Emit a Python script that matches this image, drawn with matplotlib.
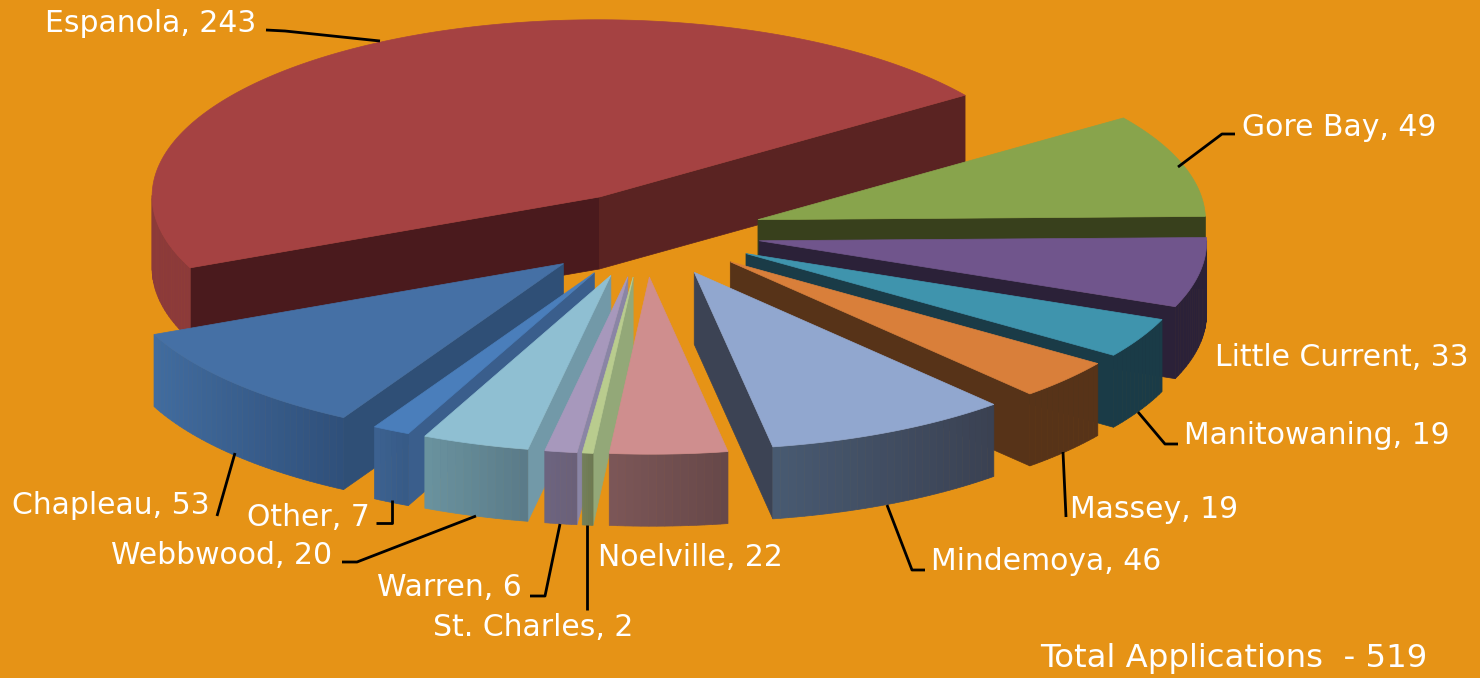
"""Exploded 3D pie of applications per town, drawn by hand with polygons."""

import matplotlib

matplotlib.use("Agg")
import matplotlib.pyplot as plt
import numpy as np
from matplotlib.colors import to_rgb
from matplotlib.patches import Polygon

TOWNS = [
    "Espanola", "Gore Bay", "Little Current", "Manitowaning", "Massey", "Mindemoya",
    "Noelville", "St. Charles", "Warren", "Webbwood", "Other", "Chapleau",
]
COUNTS = [243, 49, 33, 19, 19, 46, 22, 2, 6, 20, 7, 53]
TOTAL_LABEL = "Total Applications  - 519"

TOP_COLORS = ["#a54242", "#88a44c", "#70558c", "#3f94ad", "#d97f3a", "#91a7cf",
              "#cf8e8e", "#b9cc8e", "#a798bc", "#8fbfd2", "#4a7ebb", "#4570a5"]
# wall at the start edge of a slice, wall at the end edge
WALL_START = ["#4a1a1d", "#38401c", "#2b2138", "#1a3b47", "#573318", "#3c4354",
              "#6b4a4a", "#93a878", "#8a85a5", "#7299a8", "#3a5e8c", "#2f4f76"]
WALL_END = ["#5a2322", "#38401c", "#2b2138", "#1a3b47", "#573318", "#3c4354",
            "#6b4a4a", "#93a878", "#8a85a5", "#7299a8", "#3a5e8c", "#2f4f76"]
RIM_LEFT = ["#8c3a3a", "#38401c", "#2b2138", "#1a3b47", "#573318", "#485a72",
            "#7c5658", "#74805a", "#6c6480", "#6a939f", "#3c6291", "#416c9f"]
RIM_RIGHT = ["#8c3a3a", "#38401c", "#2b2138", "#1a3b47", "#573318", "#3a4152",
             "#664848", "#6c7850", "#6a6078", "#5a7a88", "#365a86", "#2f4f7a"]

BACKGROUND = "#e69316"
START_DEG = -111.0
RADIUS_X = 447
RADIUS_Y = 177
SKEW_X = 22
SKEW_Y = 8
DEPTH = 72
CENTER = (650, 234)
EXPLODE = (112, 43)
EXPLODE_SKEW = 3

# label left edge / vertical middle, and leader line for each town
LABEL_POS = {
    "Espanola": (45, 23), "Gore Bay": (1242, 127), "Little Current": (1215, 357),
    "Manitowaning": (1184, 436), "Massey": (1070, 509), "Mindemoya": (931, 562),
    "Noelville": (598, 558), "St. Charles": (433, 628), "Warren": (377, 588),
    "Webbwood": (111, 556), "Other": (247, 517), "Chapleau": (12, 506),
}
LEADERS = {
    "Espanola": [(266, 30), (285, 31), (380, 41)],
    "Gore Bay": [(1178, 167), (1222, 134), (1235, 134)],
    "Manitowaning": [(1138, 412), (1165, 444), (1178, 444)],
    "Massey": [(1063, 452), (1066, 517)],
    "Mindemoya": [(887, 505), (912, 570), (925, 570)],
    "St. Charles": [(587, 525), (587, 610)],
    "Warren": [(560, 524), (545, 596), (530, 596)],
    "Webbwood": [(476, 516), (357, 562), (342, 562)],
    "Other": [(392, 500), (392, 523), (376, 523)],
    "Chapleau": [(235, 453), (217, 516)],
}


def rim_point(tip, theta):
    x = tip[0] + RADIUS_X * np.sin(theta) - SKEW_X * np.cos(theta)
    y = tip[1] - RADIUS_Y * np.cos(theta) - SKEW_Y * np.sin(theta)
    return np.column_stack([x, y])


def wall(ax, tip, edge, color, z):
    pts = [tip, edge, (edge[0], edge[1] + DEPTH), (tip[0], tip[1] + DEPTH)]
    ax.add_patch(Polygon(pts, closed=True, fc=color, ec=color, lw=0.5, zorder=z))


def draw_slice(ax, t0, t1, i, z):
    mid = 0.5 * (t0 + t1)
    tip = (
        CENTER[0] + EXPLODE[0] * np.sin(mid),
        CENTER[1] - EXPLODE[1] * np.cos(mid) - EXPLODE_SKEW * np.sin(mid),
    )
    steps = max(int(np.degrees(t1 - t0)), 6)
    theta = np.linspace(t0, t1, steps + 1)
    arc = rim_point(tip, theta)

    # walls that face away would only leave a dark fringe round the top
    if arc[0][0] < tip[0]:
        wall(ax, tip, arc[0], WALL_START[i], z)
    if arc[-1][0] > tip[0]:
        wall(ax, tip, arc[-1], WALL_END[i], z)

    # rim is drawn in strips so it can shade left to right
    left = np.array(to_rgb(RIM_LEFT[i]))
    right = np.array(to_rgb(RIM_RIGHT[i]))
    x_lo, x_hi = arc[:, 0].min(), arc[:, 0].max()
    for a, b in zip(arc[:-1], arc[1:]):
        # going clockwise, only the part that runs right to left faces the viewer
        if b[0] >= a[0]:
            continue
        frac = (0.5 * (a[0] + b[0]) - x_lo) / max(x_hi - x_lo, 1)
        col = left + (right - left) * frac
        strip = [a, b, (b[0], b[1] + DEPTH), (a[0], a[1] + DEPTH)]
        ax.add_patch(Polygon(strip, closed=True, fc=col, ec=col, lw=0.5, zorder=z + 0.1))

    top = np.vstack([[tip], arc])
    ax.add_patch(Polygon(top, closed=True, fc=TOP_COLORS[i], ec=TOP_COLORS[i], lw=0.5, zorder=z + 0.2))


def main() -> None:
    plt.rcParams["font.family"] = ["DejaVu Sans"]
    fig = plt.figure(figsize=(14.8, 6.78), dpi=100, facecolor=BACKGROUND)
    ax = fig.add_axes([0, 0, 1, 1])
    ax.set_xlim(0, 1480)
    ax.set_ylim(678, 0)
    ax.axis("off")

    counts = np.array(COUNTS, dtype=float)
    sweep = np.radians(counts / counts.sum() * 360)
    edges = np.radians(START_DEG) + np.concatenate([[0], np.cumsum(sweep)])
    mids = 0.5 * (edges[:-1] + edges[1:])

    # back slices first, front slices on top
    order = np.argsort(-np.cos(mids))
    for rank, i in enumerate(order):
        draw_slice(ax, edges[i], edges[i + 1], i, 2 + rank)

    for town, pts in LEADERS.items():
        xs, ys = zip(*pts)
        ax.plot(xs, ys, color="black", lw=2.0, zorder=30, solid_capstyle="butt")

    for town, n in zip(TOWNS, COUNTS):
        x, y = LABEL_POS[town]
        ax.text(x, y, f"{town}, {n}", color="white", fontsize=21.5, ha="left", va="center", zorder=31)
    ax.text(1040, 658, TOTAL_LABEL, color="white", fontsize=23.3, ha="left", va="center", zorder=31)

    fig.savefig("out.png", dpi=100, facecolor=BACKGROUND)
    plt.close(fig)


if __name__ == "__main__":
    main()
